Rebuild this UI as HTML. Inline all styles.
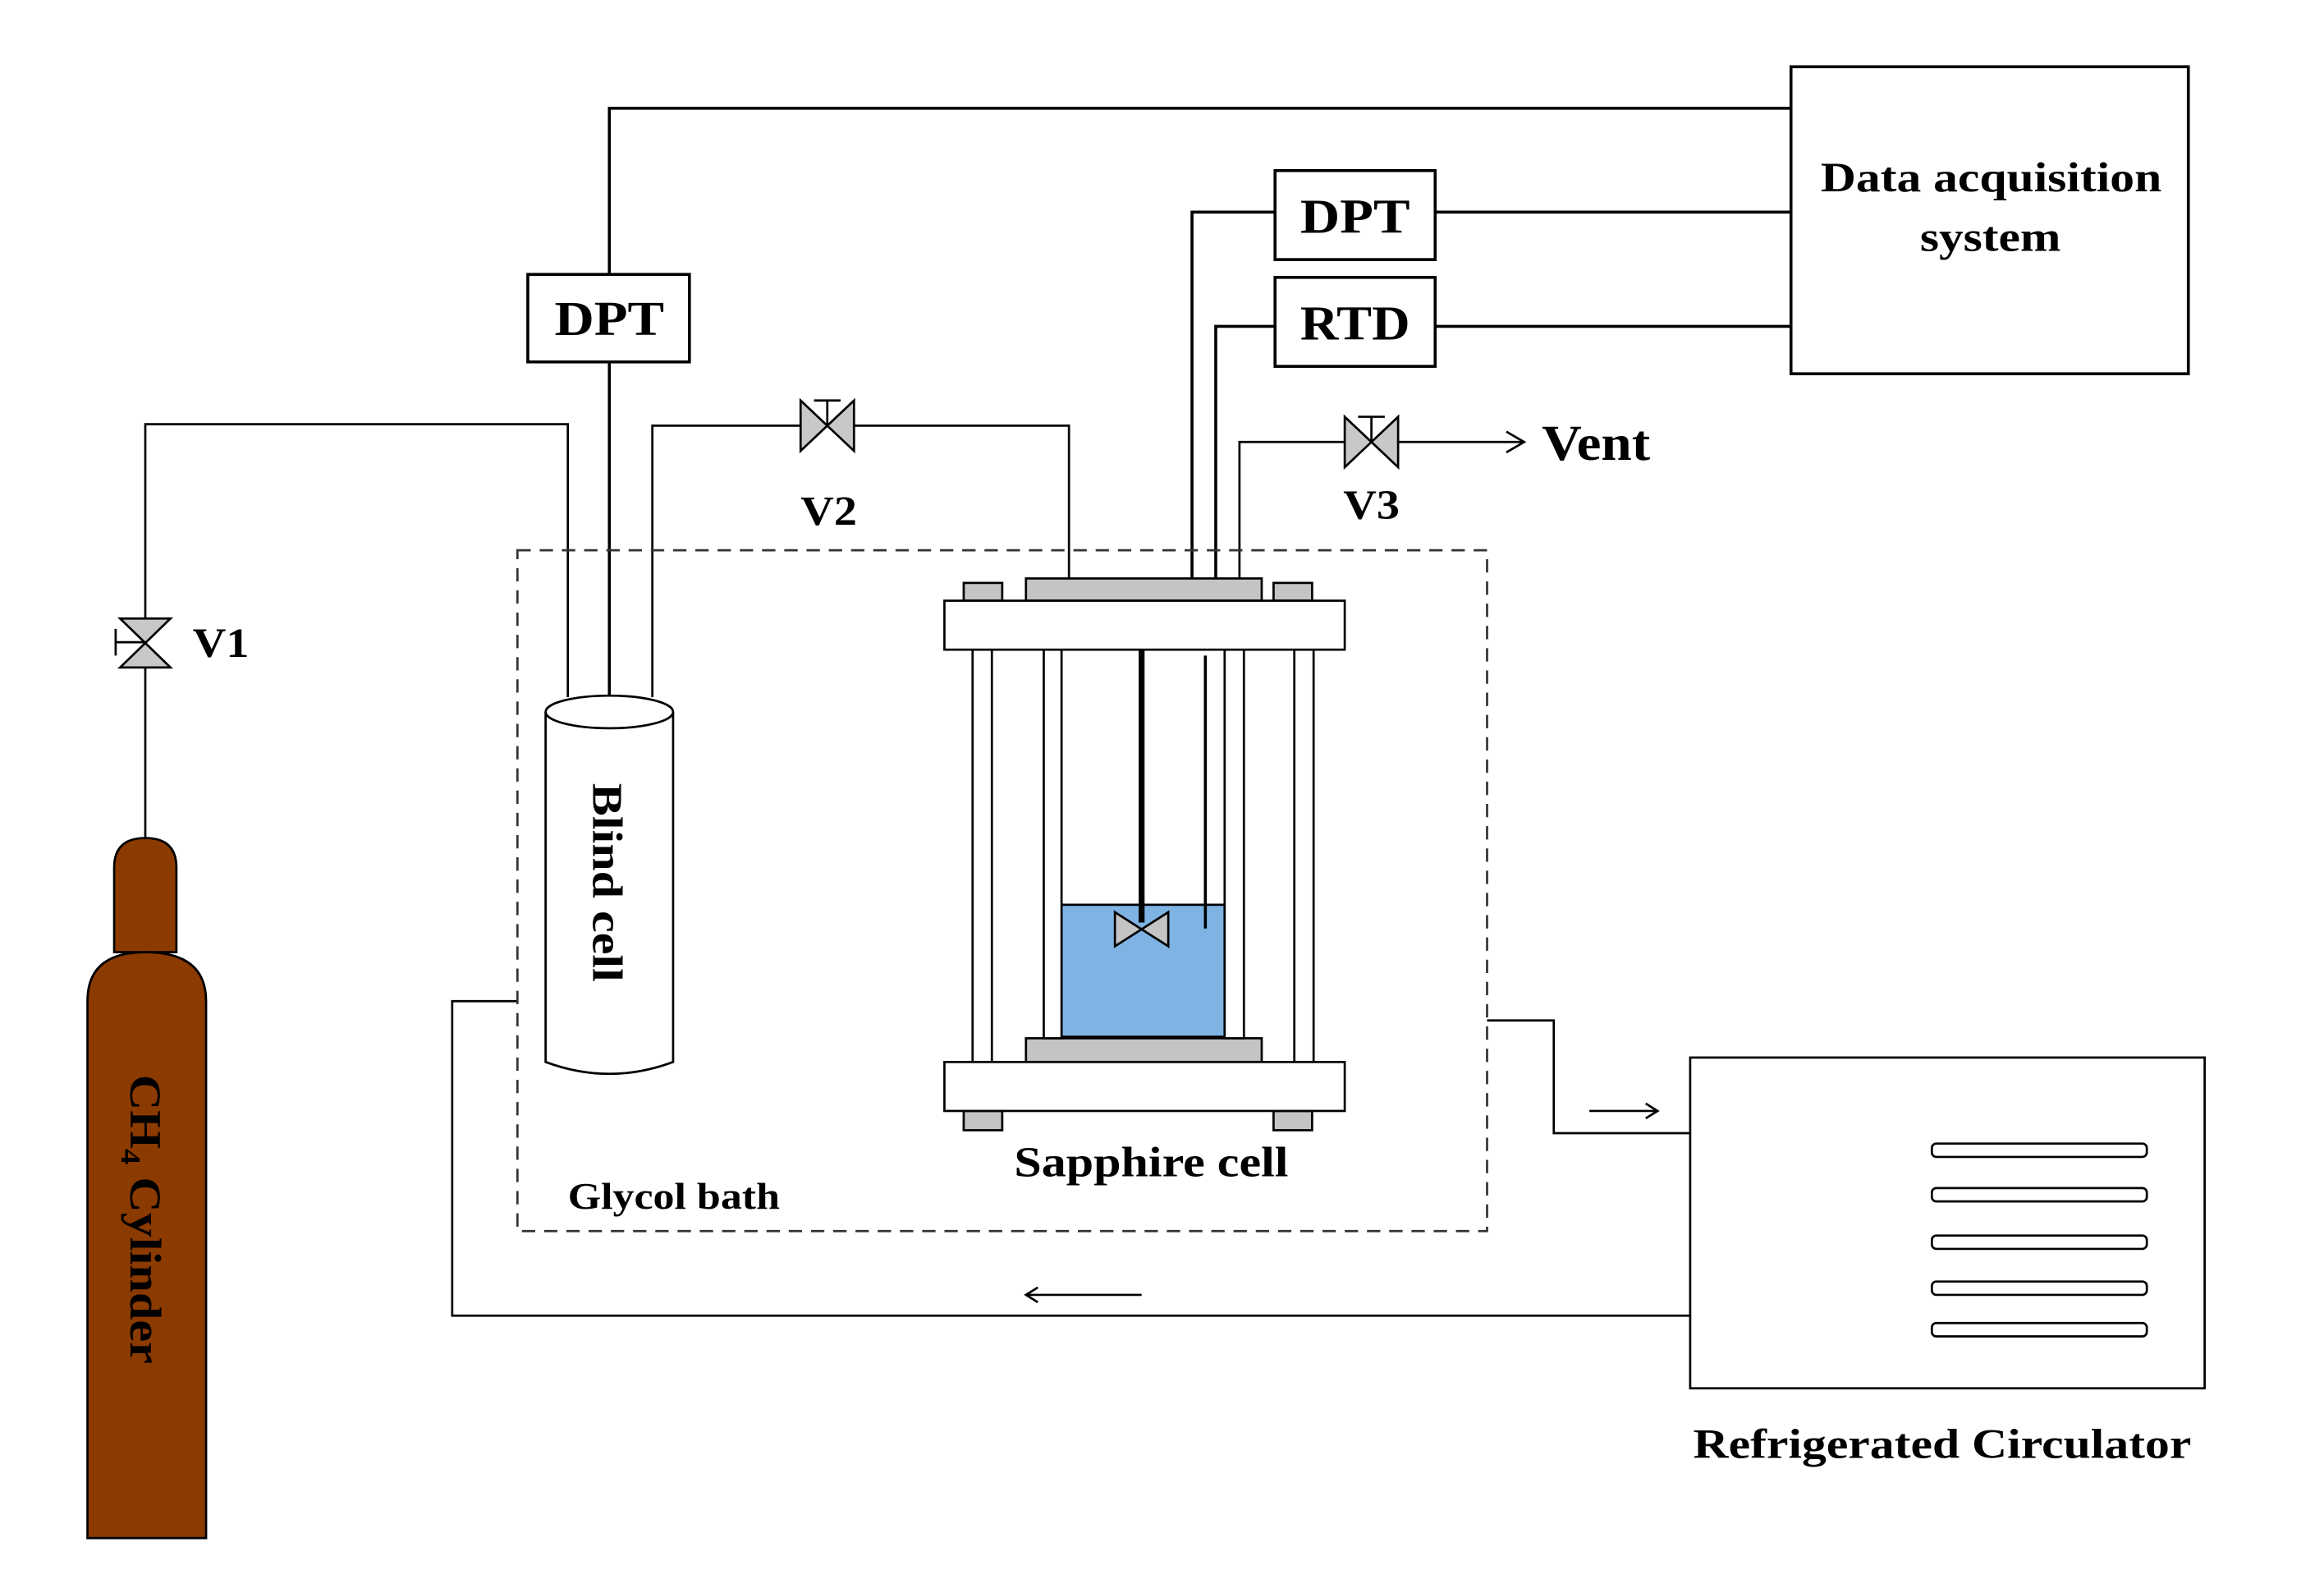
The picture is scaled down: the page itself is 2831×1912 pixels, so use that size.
<!DOCTYPE html>
<html><head><meta charset="utf-8"><style>html,body{margin:0;padding:0;background:#fff}svg{display:block}</style></head><body>
<svg width="2831" height="1912" viewBox="0 0 1567.5 1058.5" preserveAspectRatio="none" xmlns="http://www.w3.org/2000/svg" font-family="Liberation Serif, serif" font-weight="bold">
<g fill="none" stroke="#000" stroke-width="2">
<rect x="1208" y="45" width="268" height="207"/>
<polyline points="1208,73 411,73 411,185"/>
<line x1="411" y1="244" x2="411" y2="470"/>
<rect x="356" y="185" width="109" height="59"/>
<rect x="860" y="115" width="108" height="60"/>
<rect x="860" y="187" width="108" height="60"/>
<line x1="968" y1="143" x2="1208" y2="143"/>
<line x1="968" y1="220" x2="1208" y2="220"/>
<polyline points="860,143 804,143 804,390"/>
<polyline points="860,220 820,220 820,390"/>
</g>
<g fill="none" stroke="#000" stroke-width="1.5">
<polyline points="836,390 836,298 907,298"/>
<polyline points="943,298 1028,298"/>
<polyline points="1016,291 1028,298 1016,305"/>
<polyline points="440,470 440,287 540,287"/>
<polyline points="576,287 721,287 721,390"/>
<polyline points="98,565 98,286 383,286 383,470"/>
<polyline points="349,675 305,675 305,887 1140,887"/>
<polyline points="1003,688 1048,688 1048,764 1140,764"/>
<line x1="1072" y1="749" x2="1118" y2="749"/>
<polyline points="1110,744 1118,749 1110,754"/>
<line x1="692" y1="873" x2="770" y2="873"/>
<polyline points="700,868 692,873 700,878"/>
<rect x="1140" y="713" width="347" height="223"/>
</g>
<g fill="#c8c8c8" stroke="#000" stroke-width="1.5">
<polygon points="540,270 576,304 576,270 540,304"/>
<polygon points="907,281 943,315 943,281 907,315"/>
<polygon points="81,417 115,450 81,450 115,417"/>
</g>
<g stroke="#000" stroke-width="1.5">
<line x1="558" y1="270" x2="558" y2="287"/><line x1="549" y1="270" x2="567" y2="270"/>
<line x1="925" y1="281" x2="925" y2="298"/><line x1="916" y1="281" x2="934" y2="281"/>
<line x1="78" y1="433" x2="98" y2="433"/><line x1="78" y1="424" x2="78" y2="442"/>
</g>
<rect x="349" y="371" width="654" height="459" fill="none" stroke="#333" stroke-width="1.5" stroke-dasharray="9,6"/>
<path d="M77,642 L77,585 Q77,565 98,565 Q119,565 119,585 L119,642 Z" fill="#8b3a00" stroke="#000" stroke-width="1.5"/>
<path d="M59,1037 L59,675 Q59,642 98,642 Q139,642 139,675 L139,1037 Z" fill="#8b3a00" stroke="#000" stroke-width="1.5"/>
<text transform="translate(88,822) rotate(90)" font-size="30" text-anchor="middle" fill="#000" textLength="195" lengthAdjust="spacingAndGlyphs">CH<tspan font-size="19" dy="6">4</tspan><tspan dy="-6"> Cylinder</tspan></text>
<path d="M368,480 L368,716 Q411,732 454,716 L454,480" fill="#fff" stroke="#000" stroke-width="1.5"/>
<ellipse cx="411" cy="480" rx="43" ry="11" fill="#fff" stroke="#000" stroke-width="1.5"/>
<text transform="translate(400,595) rotate(90)" font-size="29" text-anchor="middle" textLength="134" lengthAdjust="spacingAndGlyphs">Blind cell</text>
<g stroke="#000" stroke-width="1.5">
<rect x="716" y="610" width="110" height="89" fill="#7fb3e3"/>
<rect x="692" y="390" width="159" height="15" fill="#c4c4c4"/>
<rect x="650" y="393" width="26" height="12" fill="#c4c4c4"/>
<rect x="859" y="393" width="26" height="12" fill="#c4c4c4"/>
<rect x="692" y="700" width="159" height="16" fill="#c4c4c4"/>
<rect x="650" y="749" width="26" height="13" fill="#c4c4c4"/>
<rect x="859" y="749" width="26" height="13" fill="#c4c4c4"/>
<rect x="656" y="438" width="13" height="278" fill="#fff"/>
<rect x="873" y="438" width="13" height="278" fill="#fff"/>
<rect x="704" y="438" width="12" height="262" fill="#fff"/>
<rect x="826" y="438" width="13" height="262" fill="#fff"/>
<rect x="637" y="405" width="270" height="33" fill="#fff"/>
<rect x="637" y="716" width="270" height="33" fill="#fff"/>
<line x1="770" y1="438" x2="770" y2="622" stroke-width="4"/>
<line x1="813" y1="442" x2="813" y2="626" stroke-width="2"/>
<polygon points="752,615 788,638 788,615 752,638" fill="#c4c4c4"/>
</g>
<g font-size="28" fill="#000" lengthAdjust="spacingAndGlyphs">
<text x="374" y="226" font-size="33" textLength="74" lengthAdjust="spacingAndGlyphs">DPT</text>
<text x="877" y="157" font-size="33" textLength="74" lengthAdjust="spacingAndGlyphs">DPT</text>
<text x="877" y="229" font-size="33" textLength="74" lengthAdjust="spacingAndGlyphs">RTD</text>
<text x="1228" y="129" textLength="230" lengthAdjust="spacingAndGlyphs">Data acquisition</text>
<text x="1295" y="169" textLength="95" lengthAdjust="spacingAndGlyphs">system</text>
<text x="540" y="354" textLength="38" lengthAdjust="spacingAndGlyphs">V2</text>
<text x="906" y="350" textLength="38" lengthAdjust="spacingAndGlyphs">V3</text>
<text x="130" y="443" textLength="38" lengthAdjust="spacingAndGlyphs">V1</text>
<text x="1040" y="310" font-size="34" textLength="73" lengthAdjust="spacingAndGlyphs">Vent</text>
<text x="684" y="793" font-size="29" textLength="185" lengthAdjust="spacingAndGlyphs">Sapphire cell</text>
<text x="383" y="815" font-size="25" textLength="143" lengthAdjust="spacingAndGlyphs">Glycol bath</text>
<text x="1142" y="983" textLength="336" lengthAdjust="spacingAndGlyphs">Refrigerated Circulator</text>
</g>
<g fill="#fff" stroke="#000" stroke-width="1.5">
<rect x="1303" y="771" width="145" height="9" rx="3"/>
<rect x="1303" y="801" width="145" height="9" rx="3"/>
<rect x="1303" y="833" width="145" height="9" rx="3"/>
<rect x="1303" y="864" width="145" height="9" rx="3"/>
<rect x="1303" y="892" width="145" height="9" rx="3"/>
</g>
</svg>
</body></html>
